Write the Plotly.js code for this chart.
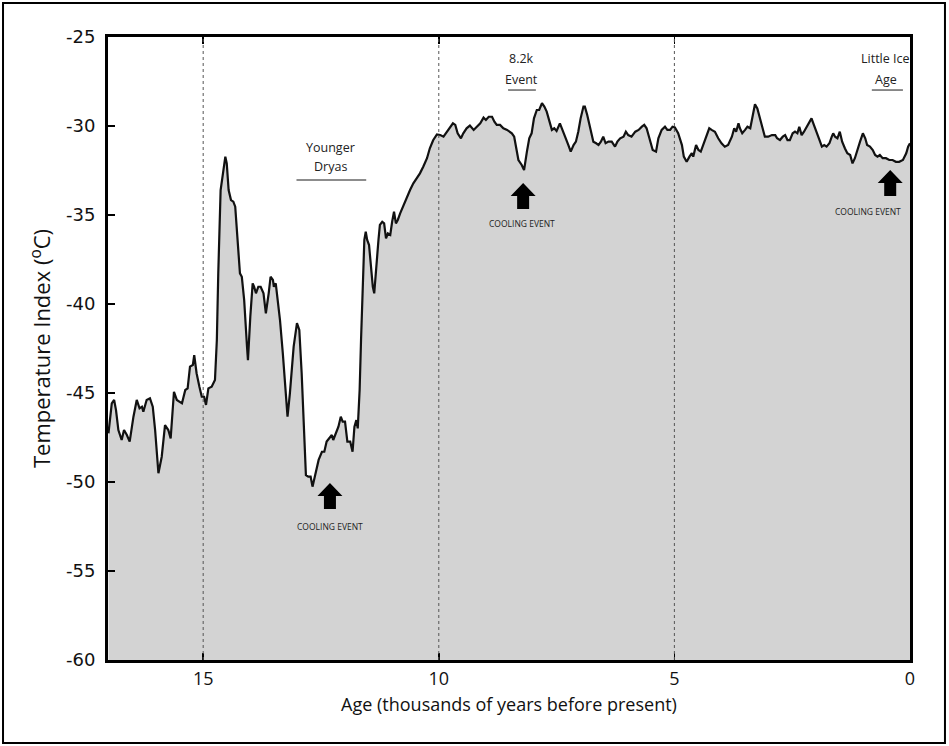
<!DOCTYPE html>
<html>
<head>
<meta charset="utf-8">
<script src="https://cdn.plot.ly/plotly-3.0.1.min.js"></script>
<style>html,body{margin:0;padding:0;background:#fff;}#chart{width:949px;height:746px;}</style>
</head>
<body>
<div id="chart"></div>
<script>
// Age in thousands of years before present
const ages = [17.01,16.94,16.89,16.85,16.80,16.73,16.68,16.62,16.56,16.48,16.41,16.35,16.30,16.27,16.20,16.13,16.07,16.02,15.95,15.88,15.81,15.74,15.69,15.62,15.56,15.45,15.38,15.33,15.28,15.22,15.19,15.14,15.08,15.03,14.98,14.94,14.89,14.82,14.75,14.71,14.68,14.63,14.58,14.53,14.50,14.46,14.41,14.36,14.32,14.27,14.22,14.18,14.13,14.07,14.05,14.00,13.95,13.92,13.88,13.83,13.78,13.72,13.67,13.61,13.57,13.52,13.50,13.46,13.42,13.37,13.31,13.26,13.21,13.16,13.08,13.01,12.96,12.91,12.86,12.82,12.77,12.72,12.68,
12.62,12.55,12.48,12.43,12.38,12.32,12.27,12.24,12.18,12.13,12.08,12.04,11.99,11.94,11.88,11.83,11.79,11.75,11.72,11.68,11.65,11.61,11.58,11.55,11.52,11.48,11.44,11.40,11.37,11.33,11.28,11.25,11.20,11.16,11.12,11.08,11.03,10.99,10.95,10.91,10.87,10.82,10.75,10.68,10.61,10.54,10.47,10.40,10.33,10.25,10.19,10.12,
10.04,9.97,9.90,9.83,9.76,9.70,9.65,9.60,9.53,9.48,9.41,9.34,9.26,9.19,9.12,9.05,9.00,8.94,8.87,8.82,8.77,8.70,8.63,8.55,8.45,8.40,8.36,8.31,8.24,8.19,8.13,8.08,8.03,7.98,7.92,7.87,7.81,7.76,7.71,7.65,7.60,7.55,7.50,7.43,7.37,7.32,7.25,7.20,7.14,7.09,7.04,6.99,6.93,6.90,6.85,6.79,6.72,6.66,6.61,6.56,6.51,6.46,6.40,6.33,6.26,6.21,6.15,6.08,6.03,5.98,5.91,5.83,5.76,5.69,5.64,5.59,5.53,5.46,5.39,5.34,5.27,5.20,5.15,5.09,5.04,4.99,
4.92,4.84,4.80,4.74,4.68,4.63,4.60,4.54,4.49,4.44,4.39,4.33,4.26,4.21,4.14,4.07,4.00,3.93,3.86,3.78,3.73,3.69,3.64,3.61,3.56,3.50,3.45,3.39,3.34,3.29,3.24,3.18,3.12,3.08,3.01,2.93,2.86,2.82,2.76,2.70,2.65,2.60,2.55,2.49,2.44,2.39,2.35,2.30,2.25,2.19,2.14,2.09,2.04,1.98,1.92,1.87,1.82,1.77,1.71,1.66,1.63,1.59,1.54,1.49,1.44,1.38,1.33,1.27,1.22,1.17,1.12,1.06,1.00,0.95,0.91,0.85,0.79,0.74,0.69,0.64,0.58,0.51,0.44,0.37,0.30,0.23,0.15,0.08,0.04,0.00];

// Temperature index (°C)
const temps = [-47.27,-45.58,-45.39,-45.96,-47.08,-47.64,-47.08,-47.36,-47.73,-46.33,-45.39,-45.86,-45.77,-46.05,-45.39,-45.30,-45.77,-47.08,-49.51,-48.58,-46.80,-47.08,-47.55,-44.93,-45.39,-45.58,-44.83,-44.74,-43.52,-43.43,-42.87,-43.89,-44.65,-45.21,-45.21,-45.67,-44.74,-44.65,-44.27,-42.02,-38.28,-33.60,-32.66,-31.72,-32.10,-33.60,-34.16,-34.25,-34.53,-36.40,-38.28,-38.47,-39.78,-42.40,-43.15,-40.71,-38.84,-39.03,-39.40,-39.03,-39.03,-39.40,-40.52,-39.40,-38.47,-38.65,-39.03,-38.84,-39.78,-40.90,-42.77,-44.46,-46.33,-45.02,-42.40,-41.08,-41.46,-43.89,-47.64,-49.61,-49.70,-49.70,-50.26,
-49.51,-48.76,-48.30,-48.30,-47.73,-47.55,-47.36,-47.64,-47.27,-46.89,-46.33,-46.61,-46.61,-47.73,-47.73,-48.30,-46.89,-46.52,-46.99,-44.83,-42.02,-38.65,-36.40,-35.94,-36.40,-36.69,-37.90,-39.03,-39.40,-37.90,-36.40,-35.56,-35.38,-35.47,-36.31,-36.03,-36.12,-35.38,-34.81,-35.47,-35.28,-34.91,-34.44,-34.06,-33.60,-33.22,-32.94,-32.66,-32.29,-31.81,-31.25,-30.80,
-30.47,-30.51,-30.60,-30.32,-30.04,-29.85,-29.94,-30.41,-30.69,-30.41,-30.13,-29.98,-30.22,-30.04,-29.85,-29.53,-29.66,-29.48,-29.48,-29.76,-29.94,-29.94,-30.13,-30.22,-30.41,-30.60,-31.25,-31.91,-32.19,-32.47,-31.44,-30.69,-30.41,-29.57,-29.10,-29.10,-28.72,-28.91,-29.19,-29.76,-30.22,-30.13,-30.28,-29.85,-30.22,-30.60,-31.07,-31.44,-31.07,-30.88,-30.32,-29.57,-28.91,-28.91,-29.38,-30.13,-30.88,-30.97,-31.07,-30.88,-30.60,-30.97,-30.88,-30.88,-31.16,-30.88,-30.69,-30.60,-30.32,-30.51,-30.60,-30.32,-30.22,-30.04,-29.94,-30.13,-30.69,-31.35,-31.44,-30.69,-30.22,-30.04,-30.22,-30.22,-30.04,-30.08,
-30.40,-31.07,-31.72,-32.01,-31.72,-31.53,-31.72,-31.07,-31.35,-31.44,-31.07,-30.60,-30.13,-30.22,-30.32,-30.69,-30.97,-31.16,-31.07,-30.60,-30.13,-30.32,-29.85,-30.13,-30.41,-30.22,-30.04,-30.13,-29.48,-28.78,-29.01,-29.57,-30.13,-30.60,-30.60,-30.51,-30.51,-30.69,-30.79,-30.60,-30.51,-30.79,-30.79,-30.41,-30.32,-30.41,-30.04,-30.51,-30.32,-30.04,-29.76,-29.57,-29.94,-30.32,-30.79,-31.16,-31.07,-31.16,-30.97,-30.60,-30.41,-30.60,-30.69,-30.32,-30.88,-31.26,-31.53,-31.63,-32.10,-31.81,-31.35,-30.88,-30.41,-30.69,-31.07,-31.16,-31.35,-31.63,-31.72,-31.63,-31.81,-31.81,-31.91,-31.91,-32.01,-32.01,-31.91,-31.53,-31.16,-30.97];

const xTickVals = [15, 10, 5, 0];
const yTickVals = [-25, -30, -35, -40, -45, -50, -55, -60];
const xRange = [17.02, 0];
const yRange = [-60, -25];

// Period labels: [age, temperature, text]
const periodLabels = [
  [12.30, -31.20, 'Younger'],
  [12.30, -32.25, 'Dryas'],
  [8.25, -26.20, '8.2k'],
  [8.25, -27.40, 'Event'],
  [0.52, -26.20, 'Little Ice'],
  [0.52, -27.40, 'Age']
];
// Period underlines: [age start, age end, temperature]
const periodLines = [
  [13.02, 11.54, -33.03],
  [8.53, 7.94, -27.98],
  [0.81, 0.15, -27.98]
];
// Cooling events: arrow tip [age, temp], label [age, temp]
const coolingEvents = [
  [12.31, -50.06, 12.30, -52.51],
  [8.21, -33.20, 8.23, -35.45],
  [0.42, -32.47, 0.89, -34.81]
];

const baseline = ages.map(() => yRange[0]);

const traces = [
  {x: ages, y: baseline, type: 'scatter', mode: 'lines', line: {width: 0}, hoverinfo: 'skip', showlegend: false},
  {x: ages, y: temps, type: 'scatter', mode: 'lines', fill: 'tonexty', fillcolor: '#d3d3d3',
   line: {color: '#111', width: 2.2}, showlegend: false}
];

const shapes = [];
xTickVals.filter(v => v > 0).forEach(v => {
  shapes.push({type: 'line', xref: 'x', yref: 'y', x0: v, x1: v, y0: yRange[0], y1: yRange[1],
    line: {color: '#555', width: 1, dash: 'dot'}, layer: 'above'});
});
periodLines.forEach(p => {
  shapes.push({type: 'line', xref: 'x', yref: 'y', x0: p[0], x1: p[1], y0: p[2], y1: p[2],
    line: {color: '#666', width: 1.5}, layer: 'above'});
});
const arrowPath = 'M0,0 L12.5,-13 L6,-13 L6,-26 L-6,-26 L-6,-13 L-12.5,-13 Z';
coolingEvents.forEach(c => {
  shapes.push({type: 'path', xref: 'x', yref: 'y', xsizemode: 'pixel', ysizemode: 'pixel',
    xanchor: c[0], yanchor: c[1], path: arrowPath, fillcolor: '#000', line: {width: 0}, layer: 'above'});
});
// outer frame of the figure
shapes.push({type: 'rect', xref: 'paper', yref: 'paper', x0: -0.1309, x1: 1.0436, y0: -0.1332, y1: 1.0546,
  line: {color: '#000', width: 2}, layer: 'above'});

const annotations = [];
periodLabels.forEach(p => {
  annotations.push({x: p[0], y: p[1], xref: 'x', yref: 'y', text: p[2], showarrow: false,
    font: {family: 'Open Sans', size: 12.5, color: '#222'}});
});
coolingEvents.forEach(c => {
  annotations.push({x: c[2], y: c[3], xref: 'x', yref: 'y', text: 'COOLING EVENT', showarrow: false,
    font: {family: 'Open Sans', size: 8.5, color: '#222'}});
});

const layout = {
  width: 949, height: 746,
  margin: {l: 108, r: 39, t: 37, b: 86},
  paper_bgcolor: '#fff', plot_bgcolor: '#fff',
  showlegend: false,
  xaxis: {
    range: xRange, tickvals: xTickVals, ticktext: xTickVals.map(String),
    ticks: 'inside', ticklen: 7, tickwidth: 1.5, tickcolor: '#000',
    showline: true, linewidth: 3, linecolor: '#000', mirror: 'ticks',
    showgrid: false, zeroline: false,
    tickfont: {family: 'Open Sans', size: 18, color: '#111'},
    title: {text: 'Age (thousands of years before present)', font: {family: 'Open Sans', size: 18, color: '#111'}, standoff: 10}
  },
  yaxis: {
    range: yRange, tickvals: yTickVals, ticktext: yTickVals.map(String),
    ticks: 'inside', ticklen: 7, tickwidth: 1.5, tickcolor: '#000',
    showline: true, linewidth: 3, linecolor: '#000', mirror: true,
    showgrid: false, zeroline: false,
    ticklabelstandoff: 6,
    tickfont: {family: 'DejaVu Sans', size: 18, color: '#111'},
    title: {text: 'Temperature Index (<sup>o</sup>C)', font: {family: 'Open Sans', size: 22, color: '#111'}, standoff: 10}
  },
  shapes: shapes,
  annotations: annotations
};

Plotly.newPlot('chart', traces, layout, {displayModeBar: false, staticPlot: true});
</script>
</body>
</html>
